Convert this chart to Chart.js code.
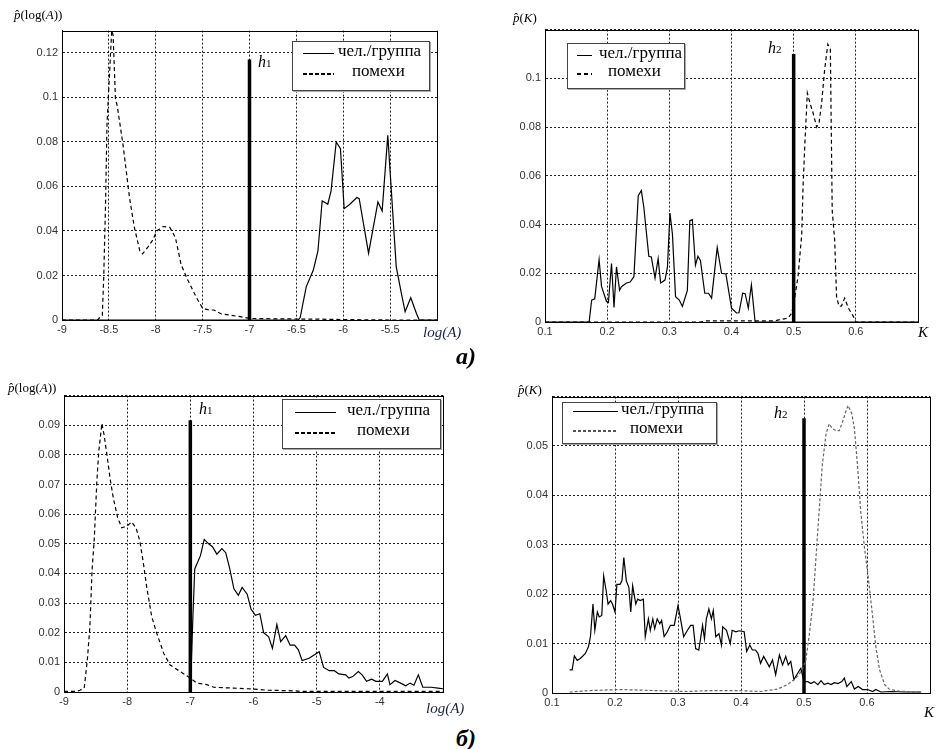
<!DOCTYPE html>
<html>
<head>
<meta charset="utf-8">
<script src="https://cdn.jsdelivr.net/npm/chart.js@4.4.1/dist/chart.umd.min.js"></script>
<style>
  body { margin: 0; background: #fff; width: 938px; height: 749px; position: relative; overflow: hidden; font-family: "Liberation Serif", serif; }
  canvas { position: absolute; z-index: 1; }
  .t { position: absolute; white-space: nowrap; line-height: 1; color: #000; z-index: 3; }
  .lg { position: absolute; border: 1px solid #444; background: #fff; z-index: 2; box-shadow: 1px 1px 0 #aaa; }
  .row { position: absolute; font-size: 17px; line-height: 17px; white-space: nowrap; z-index: 3; }
  .ln { position: absolute; height: 0; border-top: 1.5px solid #000; z-index: 3; }
  .dl { position: absolute; height: 1.5px; z-index: 3; }
</style>
</head>
<body>

<!-- подписи осей и панелей -->
<div class="t" style="left:14px;top:8px;font-size:13px"><i>p̂</i>(log(<i>A</i>))</div>
<div class="t" style="left:513px;top:11px;font-size:13px"><i>p̂</i>(<i>K</i>)</div>
<div class="t" style="left:8px;top:381px;font-size:13px"><i>p̂</i>(log(<i>A</i>))</div>
<div class="t" style="left:518px;top:383px;font-size:13px"><i>p̂</i>(<i>K</i>)</div>

<div class="t" style="left:423px;top:325px;font-size:15px;font-style:italic;color:#1c2340">log(A)</div>
<div class="t" style="left:918px;top:325px;font-size:15px;font-style:italic">K</div>
<div class="t" style="left:426px;top:701px;font-size:15px;font-style:italic;color:#1c2340">log(A)</div>
<div class="t" style="left:924px;top:705px;font-size:15px;font-style:italic">K</div>

<div class="t" style="left:456px;top:344px;font-size:24px;font-weight:bold;font-style:italic">а)</div>
<div class="t" style="left:456px;top:726px;font-size:24px;font-weight:bold;font-style:italic">б)</div>

<div class="t" style="left:258px;top:54px;font-size:16px"><i>h</i><span style="font-size:11px">1</span></div>
<div class="t" style="left:768px;top:40px;font-size:16px"><i>h</i><span style="font-size:11px">2</span></div>
<div class="t" style="left:199px;top:401px;font-size:16px"><i>h</i><span style="font-size:11px">1</span></div>
<div class="t" style="left:774px;top:405px;font-size:16px"><i>h</i><span style="font-size:11px">2</span></div>

<script>
// ── а) log(A) ──────────────────────────────────────────────
const aLogNoiseX = [-9, -8.62, -8.6, -8.57, -8.555, -8.535, -8.52, -8.49, -8.47, -8.455, -8.43, -8.41, -8.35, -8.28, -8.23, -8.17, -8.14, -8.08, -8.03, -7.99, -7.92, -7.85, -7.79, -7.73, -7.67, -7.57, -7.5, -7.43, -7.38, -7.3, -7.21, -7.1, -7.0, -6.7, -6.3, -6.0, -5.5, -5];
const aLogNoiseY = [0, 0, 0.001, 0.002, 0.019, 0.053, 0.088, 0.113, 0.130, 0.128, 0.0995, 0.096, 0.079, 0.055, 0.042, 0.031, 0.0297, 0.033, 0.036, 0.040, 0.042, 0.0416, 0.037, 0.025, 0.019, 0.0104, 0.0052, 0.0045, 0.0045, 0.0027, 0.0022, 0.0015, 0.0007, 0.0005, 0.0004, 0.0002, 0, 0];
const aLogGroupX = [-9, -6.48, -6.46, -6.395, -6.32, -6.27, -6.225, -6.19, -6.165, -6.13, -6.075, -6.03, -5.99, -5.93, -5.855, -5.83, -5.73, -5.63, -5.585, -5.525, -5.48, -5.435, -5.38, -5.34, -5.28, -5.22, -5.19, -5];
const aLogGroupY = [0, 0, 0.001, 0.0149, 0.0223, 0.031, 0.0535, 0.0527, 0.052, 0.058, 0.080, 0.077, 0.050, 0.052, 0.055, 0.0545, 0.030, 0.053, 0.049, 0.083, 0.0535, 0.024, 0.012, 0.0037, 0.010, 0.003, 0, 0];
const aLogH = -7, aLogHTop = 0.117;

// ── а) K ───────────────────────────────────────────────────
const aKGroupX = [0.1, 0.171, 0.175, 0.18, 0.187, 0.191, 0.199, 0.202, 0.207, 0.211, 0.215, 0.22, 0.223, 0.231, 0.237, 0.243, 0.25, 0.255, 0.259, 0.267, 0.271, 0.277, 0.282, 0.286, 0.293, 0.297, 0.301, 0.305, 0.31, 0.316, 0.321, 0.329, 0.333, 0.337, 0.342, 0.346, 0.35, 0.357, 0.363, 0.368, 0.377, 0.384, 0.391, 0.4, 0.408, 0.412, 0.418, 0.422, 0.427, 0.432, 0.438, 0.7];
const aKGroupY = [0, 0, 0.009, 0.0095, 0.0256, 0.0145, 0.0084, 0.008, 0.024, 0.006, 0.0226, 0.013, 0.0145, 0.016, 0.0164, 0.0186, 0.0518, 0.054, 0.047, 0.027, 0.0267, 0.018, 0.026, 0.016, 0.0172, 0.0226, 0.0447, 0.036, 0.0104, 0.009, 0.0064, 0.013, 0.0416, 0.042, 0.0233, 0.027, 0.0253, 0.0118, 0.0118, 0.0098, 0.0305, 0.02, 0.0197, 0.0057, 0.0037, 0.0038, 0.0118, 0.0116, 0.0057, 0.0152, 0, 0];
const aKNoiseX = [0.1, 0.35, 0.36, 0.47, 0.478, 0.491, 0.497, 0.502, 0.507, 0.513, 0.515, 0.518, 0.522, 0.526, 0.531, 0.537, 0.541, 0.545, 0.55, 0.555, 0.559, 0.562, 0.566, 0.569, 0.573, 0.577, 0.582, 0.588, 0.596, 0.6, 0.7];
const aKNoiseY = [0, 0, 0.0005, 0.0005, 0.001, 0.0016, 0.0037, 0.0104, 0.0186, 0.036, 0.055, 0.073, 0.094, 0.090, 0.086, 0.080, 0.082, 0.090, 0.104, 0.114, 0.112, 0.0457, 0.0335, 0.0104, 0.0064, 0.0066, 0.0098, 0.0057, 0.0023, 0, 0];
const aKH = 0.5, aKHTop = 0.110;

// ── б) log(A) ──────────────────────────────────────────────
const bLogNoiseX = [-9, -8.8, -8.75, -8.68, -8.63, -8.59, -8.556, -8.52, -8.48, -8.45, -8.40, -8.365, -8.32, -8.27, -8.22, -8.15, -8.085, -8.0, -7.93, -7.86, -7.8, -7.74, -7.69, -7.61, -7.53, -7.42, -7.32, -7.16, -7.0, -6.9, -6.74, -6.63, -6.31, -6.0, -5.78, -5.36, -5.25, -3];
const bLogNoiseY = [0.0002, 0.0002, 0.0006, 0.0013, 0.011, 0.022, 0.041, 0.052, 0.071, 0.081, 0.0906, 0.0867, 0.080, 0.072, 0.0655, 0.0588, 0.0554, 0.056, 0.0574, 0.0554, 0.051, 0.043, 0.0353, 0.0253, 0.0197, 0.013, 0.0091, 0.0069, 0.0047, 0.003, 0.0025, 0.0016, 0.0013, 0.001, 0.0006, 0.0004, 0.0002, 0.0002];
const bLogGroupX = [-7, -6.98, -6.96, -6.93, -6.9, -6.84, -6.78, -6.71, -6.65, -6.58, -6.5, -6.44, -6.38, -6.31, -6.24, -6.18, -6.1, -6.04, -5.97, -5.9, -5.84, -5.76, -5.70, -5.63, -5.57, -5.49, -5.42, -5.35, -5.29, -5.23, -5.12, -4.96, -4.89, -4.80, -4.72, -4.65, -4.54, -4.49, -4.43, -4.34, -4.28, -4.21, -4.13, -4.06, -3.96, -3.88, -3.84, -3.76, -3.67, -3.59, -3.52, -3.46, -3.39, -3.32, -3.19, -3.08, -3.0];
const bLogGroupY = [0, 0.012, 0.025, 0.0415, 0.043, 0.046, 0.0515, 0.050, 0.049, 0.0465, 0.0484, 0.047, 0.042, 0.0348, 0.0326, 0.0353, 0.033, 0.028, 0.0259, 0.0264, 0.020, 0.0186, 0.0147, 0.0228, 0.017, 0.019, 0.0158, 0.0158, 0.0142, 0.0106, 0.0114, 0.0136, 0.0083, 0.0072, 0.0072, 0.0061, 0.0058, 0.0047, 0.0052, 0.0069, 0.0058, 0.0036, 0.0043, 0.0036, 0.0036, 0.0061, 0.0025, 0.0039, 0.003, 0.0021, 0.003, 0.0023, 0.0058, 0.0016, 0.0016, 0.0013, 0.0011];
const bLogH = -7, bLogHTop = 0.0917;

// ── б) K ───────────────────────────────────────────────────
const bKGroupX = [0.128, 0.132, 0.1355, 0.14, 0.145, 0.153, 0.158, 0.161, 0.165, 0.168, 0.172, 0.175, 0.179, 0.182, 0.186, 0.189, 0.193, 0.196, 0.2, 0.203, 0.208, 0.211, 0.214, 0.218, 0.222, 0.225, 0.228, 0.233, 0.236, 0.24, 0.245, 0.248, 0.253, 0.256, 0.26, 0.263, 0.267, 0.271, 0.274, 0.278, 0.283, 0.288, 0.294, 0.3, 0.304, 0.309, 0.315, 0.32, 0.324, 0.328, 0.333, 0.339, 0.342, 0.345, 0.349, 0.353, 0.356, 0.36, 0.365, 0.369, 0.371, 0.377, 0.383, 0.386, 0.392, 0.397, 0.405, 0.409, 0.414, 0.418, 0.423, 0.427, 0.431, 0.436, 0.439, 0.445, 0.45, 0.455, 0.461, 0.466, 0.471, 0.475, 0.479, 0.484, 0.49, 0.495, 0.5, 0.506, 0.511, 0.516, 0.522, 0.527, 0.532, 0.538, 0.543, 0.548, 0.554, 0.56, 0.564, 0.568, 0.575, 0.58, 0.586, 0.593, 0.601, 0.609, 0.614, 0.622, 0.638, 0.66, 0.686];
const bKGroupY = [0.0047, 0.0047, 0.0075, 0.0066, 0.007, 0.008, 0.0094, 0.0114, 0.018, 0.0127, 0.0164, 0.0154, 0.0157, 0.0237, 0.0207, 0.018, 0.0187, 0.018, 0.0164, 0.022, 0.022, 0.0227, 0.0274, 0.0227, 0.0214, 0.0164, 0.0217, 0.018, 0.019, 0.0187, 0.019, 0.0114, 0.015, 0.0127, 0.015, 0.013, 0.015, 0.014, 0.0147, 0.0114, 0.0124, 0.0137, 0.0137, 0.0177, 0.015, 0.0114, 0.0127, 0.0137, 0.0137, 0.009, 0.0087, 0.0137, 0.011, 0.015, 0.017, 0.015, 0.0167, 0.0114, 0.012, 0.0097, 0.0134, 0.0127, 0.01, 0.0127, 0.0124, 0.0126, 0.0124, 0.0084, 0.0097, 0.0087, 0.0087, 0.008, 0.006, 0.0074, 0.0067, 0.0053, 0.0067, 0.0037, 0.0077, 0.0057, 0.0074, 0.0057, 0.0064, 0.0027, 0.004, 0.005, 0.0023, 0.0023, 0.0019, 0.0023, 0.0017, 0.0025, 0.0017, 0.002, 0.0017, 0.0021, 0.0019, 0.0023, 0.003, 0.0013, 0.0023, 0.0008, 0.0013, 0.0007, 0.0007, 0.0003, 0.0007, 0.0002, 0.0003, 0.0002, 0.0002];
const bKNoiseX = [0.128, 0.161, 0.209, 0.262, 0.315, 0.352, 0.394, 0.431, 0.458, 0.474, 0.484, 0.492, 0.498, 0.503, 0.508, 0.514, 0.519, 0.524, 0.529, 0.535, 0.54, 0.545, 0.551, 0.556, 0.561, 0.567, 0.57, 0.576, 0.58, 0.585, 0.59, 0.596, 0.602, 0.609, 0.614, 0.62, 0.628, 0.635, 0.649, 0.675, 0.686];
const bKNoiseY = [0.0002, 0.0005, 0.0007, 0.0005, 0.0003, 0.0005, 0.0005, 0.0003, 0.0008, 0.0017, 0.0027, 0.0037, 0.005, 0.0067, 0.0114, 0.018, 0.0274, 0.0368, 0.0461, 0.0525, 0.0545, 0.0535, 0.0531, 0.0531, 0.0548, 0.0572, 0.0582, 0.0565, 0.0535, 0.046, 0.0368, 0.0294, 0.0234, 0.0154, 0.0094, 0.0047, 0.0017, 0.0008, 0.0004, 0.0002, 0.0002];
const bKH = 0.5, bKHTop = 0.0556;

const legendLabels = ['чел./группа', 'помехи'];

const pts = (xs, ys) => xs.map((x, i) => ({ x, y: ys[i] }));
const fmt = v => String(+v.toFixed(3));

// рамка вокруг области графика, как в MATLAB
const boxPlugin = {
  id: 'box',
  afterDraw(chart) {
    const { ctx, chartArea: a } = chart;
    ctx.save();
    ctx.strokeStyle = '#000';
    ctx.lineWidth = 1;
    ctx.strokeRect(Math.round(a.left) + 0.5, Math.round(a.top) + 0.5, Math.round(a.right - a.left), Math.round(a.bottom - a.top));
    ctx.restore();
  }
};

function line(data, opts) {
  return Object.assign({ data, borderColor: '#000', borderWidth: 1.2, pointRadius: 0, tension: 0, fill: false }, opts || {});
}

function panel(area, xr, yr, datasets) {
  const padT = 8, padR = 10, axW = 50, axH = 22;
  const cv = document.createElement('canvas');
  cv.width = area.r - area.l + axW + padR;
  cv.height = area.b - area.t + padT + axH;
  cv.style.left = (area.l - axW) + 'px';
  cv.style.top = (area.t - padT) + 'px';
  document.body.appendChild(cv);

  const tickFont = { family: 'Liberation Sans', size: 11 };
  const grid = { color: '#222', lineWidth: 1, drawTicks: false };
  const border = { color: '#000', dash: [2, 2] };

  new Chart(cv, {
    type: 'line',
    data: { datasets },
    options: {
      responsive: false,
      animation: false,
      devicePixelRatio: 1,
      layout: { padding: { top: padT, right: padR, left: 0, bottom: 0 } },
      plugins: { legend: { display: false }, tooltip: { enabled: false } },
      scales: {
        x: {
          type: 'linear', min: xr[0], max: xr[1],
          afterFit: s => { s.height = axH; },
          grid, border,
          ticks: {
            stepSize: xr[2], padding: 3, color: '#333', font: tickFont,
            maxRotation: 0, autoSkip: false, includeBounds: false,
            callback: v => (v >= xr[1] - 1e-9 ? '' : fmt(v))
          }
        },
        y: {
          type: 'linear', min: yr[0], max: yr[1],
          afterFit: s => { s.width = axW; },
          grid, border,
          ticks: {
            stepSize: yr[2], padding: 4, color: '#333', font: tickFont,
            autoSkip: false, includeBounds: false,
            callback: v => (v >= yr[1] - 1e-9 ? '' : fmt(v))
          }
        }
      }
    },
    plugins: [boxPlugin]
  });
}

function legend(box, l1, l2, tx1, tx2, y1, y2, dashColor, dashPat) {
  const add = (cls, css, html) => {
    const d = document.createElement('div');
    d.className = cls;
    d.style.cssText = css;
    if (html) d.textContent = html;
    document.body.appendChild(d);
  };
  add('lg', `left:${box[0]}px;top:${box[1]}px;width:${box[2]}px;height:${box[3]}px`);
  add('ln', `left:${l1}px;width:${l2 - l1}px;top:${y1}px`);
  add('dl', `left:${l1}px;width:${l2 - l1}px;top:${y2}px;background:repeating-linear-gradient(90deg,${dashColor} 0 ${dashPat[0]}px,transparent ${dashPat[0]}px ${dashPat[0] + dashPat[1]}px)`);
  add('row', `left:${tx1}px;top:${y1 - 11}px`, legendLabels[0]);
  add('row', `left:${tx2}px;top:${y2 - 11}px`, legendLabels[1]);
}

const dashed = { borderDash: [4, 3] };
const thick = { borderWidth: 3.5 };

panel({ l: 62, t: 28, r: 437, b: 320 }, [-9, -5, 0.5], [0, 0.13, 0.02], [
  line(pts(aLogNoiseX, aLogNoiseY), dashed),
  line(pts(aLogGroupX, aLogGroupY)),
  line([{ x: aLogH, y: 0 }, { x: aLogH, y: aLogHTop }], thick)
]);
panel({ l: 545, t: 27, r: 918, b: 322 }, [0.1, 0.7, 0.1], [0, 0.12, 0.02], [
  line(pts(aKNoiseX, aKNoiseY), dashed),
  line(pts(aKGroupX, aKGroupY)),
  line([{ x: aKH, y: 0 }, { x: aKH, y: aKHTop }], thick)
]);
panel({ l: 64, t: 393, r: 443, b: 692 }, [-9, -3, 1], [0, 0.1, 0.01], [
  line(pts(bLogNoiseX, bLogNoiseY), dashed),
  line(pts(bLogGroupX, bLogGroupY)),
  line([{ x: bLogH, y: 0 }, { x: bLogH, y: bLogHTop }], thick)
]);
panel({ l: 552, t: 394, r: 930, b: 693 }, [0.1, 0.7, 0.1], [0, 0.06, 0.01], [
  line(pts(bKNoiseX, bKNoiseY), { borderDash: [3, 2], borderColor: '#666' }),
  line(pts(bKGroupX, bKGroupY)),
  line([{ x: bKH, y: 0 }, { x: bKH, y: bKHTop }], thick)
]);

legend([292, 41, 136, 48], 303, 334, 338, 352, 53, 73, '#000', [4, 2]);
legend([567, 43, 116, 44], 577, 592, 599, 608, 55, 73, '#000', [4, 3]);
legend([282, 399, 157, 48], 295, 336, 347, 357, 412, 432, '#000', [4, 2]);
legend([562, 402, 153, 40], 573, 618, 621, 630, 411, 430, '#555', [3, 2]);
</script>
</body>
</html>
